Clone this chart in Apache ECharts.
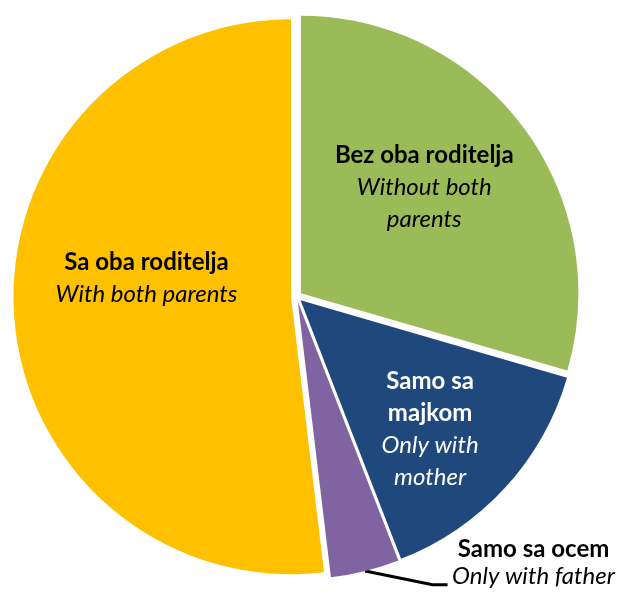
<!DOCTYPE html>
<html><head><meta charset="utf-8">
<script src="https://cdn.jsdelivr.net/npm/echarts@6/dist/echarts.min.js"></script>
<style>html,body{margin:0;padding:0;background:#fff}#c{width:620px;height:592px}</style>
</head><body><div id="c"></div>
<script>
const categories = ['Bez oba roditelja', 'Samo sa majkom', 'Samo sa ocem', 'Sa oba roditelja'];
const boldLines = [['Bez oba roditelja'], ['Samo sa', 'majkom'], ['Samo sa ocem'], ['Sa oba roditelja']];
const italicLines = [['Without both', 'parents'], ['Only with', 'mother'], ['Only with father'], ['With both parents']];
const values = [29.5, 14.6, 4.0, 51.9];
const colors = ['#9BBB59', '#1F497D', '#8064A2', '#FFC000'];
const textColors = ['#000', '#fff', '#000', '#000'];

const FONT = 'Lato';
const base = [296.5, 296.5];
const R = 277.5;
const explode = 5.5;
const labelOffsets = [[10, -21], [25, 33], [0, 0], [-3, -27]];
const total = values.reduce((a, b) => a + b, 0);

function labelText(i) {
  return boldLines[i].map(s => '{b|' + s + '}').concat(italicLines[i].map(s => '{i|' + s + '}')).join('\n');
}

const series = [];
let cum = 0;
values.forEach((v, k) => {
  const mid = (cum + v / 2) / total * 2 * Math.PI;
  cum += v;
  const cx = base[0] + explode * Math.sin(mid);
  const cy = base[1] - explode * Math.cos(mid);
  const lh = k === 2 ? 27 : 32;
  const rich = {
    b: { fontFamily: FONT, fontWeight: 'bold', fontSize: 24, lineHeight: lh, color: textColors[k], align: 'center' },
    i: { fontFamily: FONT, fontStyle: 'italic', fontSize: 24, lineHeight: lh, color: textColors[k], align: 'center' }
  };
  series.push({
    type: 'pie',
    center: [cx, cy],
    radius: [0, R],
    startAngle: 90,
    clockwise: true,
    avoidLabelOverlap: false,
    silent: true,
    animation: false,
    emphasis: { disabled: true },
    data: values.map((val, i) => {
      if (i !== k) {
        return { name: categories[i], value: val, itemStyle: { color: 'rgba(0,0,0,0)' }, label: { show: false }, labelLine: { show: false } };
      }
      const isOut = k === 2;
      return {
        name: categories[i], value: val,
        itemStyle: { color: colors[i] },
        label: isOut ? {
          show: true, position: 'outside', formatter: labelText(i), rich: rich,
          width: 166, distanceToLabelLine: 3, overflow: 'none'
        } : {
          show: true, position: 'inside', formatter: labelText(i), rich: rich,
          offset: labelOffsets[i]
        },
        labelLine: isOut ? { show: true, length: 14, length2: 79, smooth: false, lineStyle: { color: '#000', width: 3 } } : { show: false }
      };
    }),
    labelLayout: k === 2 ? function (p) {
      if (p.dataIndex !== 2 || !p.labelLinePoints) return {};
      const pts = p.labelLinePoints;
      const end = pts[pts.length - 1];
      return { dy: -22, labelLinePoints: [pts[0], [end[0] - 15, end[1]], end] };
    } : undefined
  });
});

const chart = echarts.init(document.getElementById('c'), null, { renderer: 'canvas' });
chart.setOption({ backgroundColor: '#fff', animation: false, series: series });
</script></body></html>
